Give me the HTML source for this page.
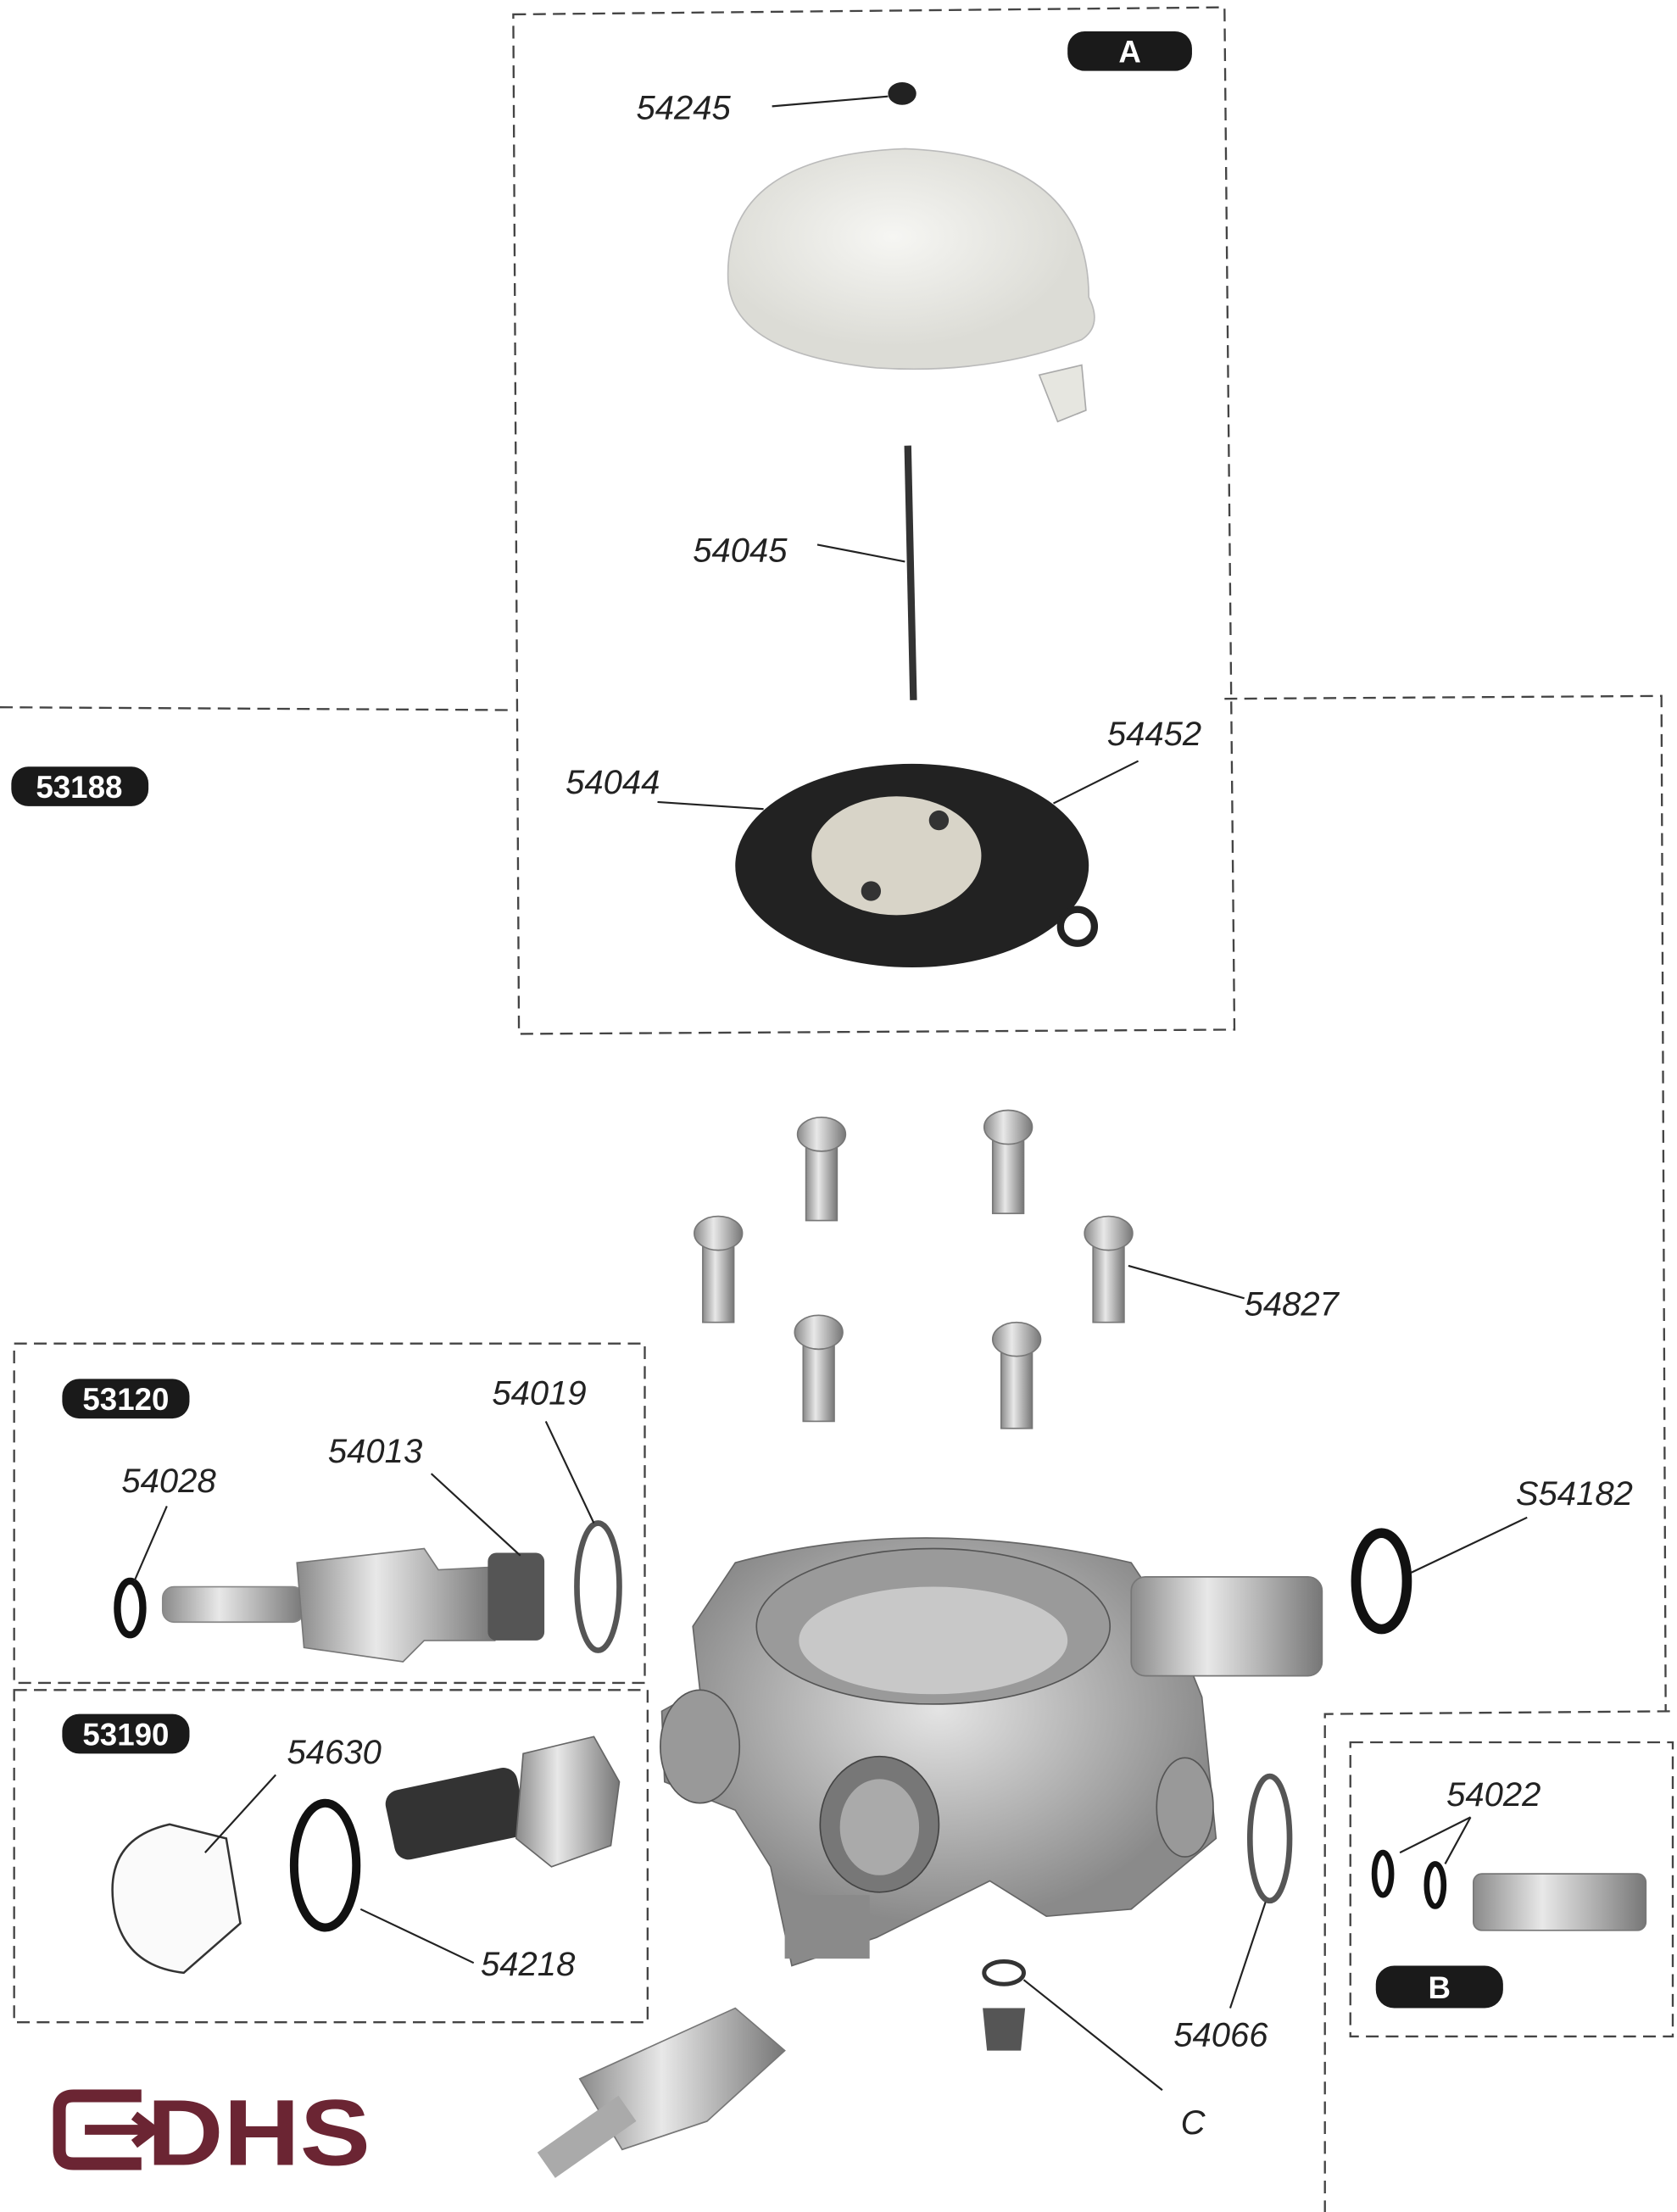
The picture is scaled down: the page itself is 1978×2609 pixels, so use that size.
<!DOCTYPE html>
<html><head><meta charset="utf-8"><style>
html,body{margin:0;padding:0;background:#fff;}
svg{display:block}
text{font-family:"Liberation Sans",sans-serif;}
.l{font-size:24px;font-style:italic;fill:#222}
.d{stroke:#444;stroke-width:1.4;stroke-dasharray:9 5;fill:none}
.ld{stroke:#222;stroke-width:1.3;fill:none}
.pt{font-size:22px;font-weight:bold;fill:#fff}
</style></head><body>
<svg width="1978" height="2609" viewBox="0 0 1186 1564" xmlns="http://www.w3.org/2000/svg">
<defs>
<linearGradient id="m" x1="0" x2="1"><stop offset="0" stop-color="#8a8a8a"/><stop offset=".4" stop-color="#e8e8e8"/><stop offset="1" stop-color="#777"/></linearGradient>
<radialGradient id="dome" cx=".45" cy=".4"><stop offset="0" stop-color="#f6f6f3"/><stop offset="1" stop-color="#dcdcd6"/></radialGradient>
<radialGradient id="body" cx=".5" cy=".4"><stop offset="0" stop-color="#e4e4e4"/><stop offset="1" stop-color="#8a8a8a"/></radialGradient>
</defs>
<rect width="1186" height="1564" fill="#fff"/>
<path class="d" d="M363 10 L866 5 L873 728 L367 731 Z"/>
<path class="d" d="M0 500 L363 502 M866 494 L1175 492 L1178 1210"/>
<path class="d" d="M937 1565 L937 1212 L1186 1210"/>
<rect class="d" x="955" y="1232" width="228" height="208"/>
<rect class="d" x="10" y="950" width="446" height="240"/>
<rect class="d" x="10" y="1195" width="448" height="235"/>
<rect x="755" y="22" width="88" height="28" rx="12" fill="#1a1a1a"/><text x="799" y="44" class="pt" text-anchor="middle">A</text>
<rect x="973" y="1390" width="90" height="30" rx="13" fill="#1a1a1a"/><text x="1018" y="1413" class="pt" text-anchor="middle">B</text>
<rect x="8" y="542" width="97" height="28" rx="12" fill="#1a1a1a"/><text x="56" y="564" class="pt" text-anchor="middle">53188</text>
<rect x="44" y="975" width="90" height="28" rx="12" fill="#1a1a1a"/><text x="89" y="997" class="pt" text-anchor="middle">53120</text>
<rect x="44" y="1212" width="90" height="28" rx="12" fill="#1a1a1a"/><text x="89" y="1234" class="pt" text-anchor="middle">53190</text>
<ellipse cx="638" cy="66" rx="10" ry="8" fill="#222"/>
<path d="M515 200 Q510 110 640 105 Q770 110 770 210 Q780 230 765 240 Q700 265 620 260 Q520 250 515 200Z" fill="url(#dome)" stroke="#bbb"/>
<path d="M735 265 L765 258 L768 290 L748 298 Z" fill="#e6e6e0" stroke="#aaa"/>
<line x1="642" y1="315" x2="646" y2="495" stroke="#333" stroke-width="5"/>
<ellipse cx="645" cy="612" rx="125" ry="72" fill="#222"/>
<circle cx="762" cy="655" r="12" fill="none" stroke="#222" stroke-width="5"/>
<ellipse cx="634" cy="605" rx="60" ry="42" fill="#d8d4c8"/>
<circle cx="664" cy="580" r="7" fill="#333"/><circle cx="616" cy="630" r="7" fill="#333"/>
<g fill="url(#m)" stroke="#777">
<rect x="570" y="805" width="22" height="58"/><ellipse cx="581" cy="802" rx="17" ry="12"/>
<rect x="702" y="800" width="22" height="58"/><ellipse cx="713" cy="797" rx="17" ry="12"/>
<rect x="497" y="875" width="22" height="60"/><ellipse cx="508" cy="872" rx="17" ry="12"/>
<rect x="773" y="875" width="22" height="60"/><ellipse cx="784" cy="872" rx="17" ry="12"/>
<rect x="568" y="945" width="22" height="60"/><ellipse cx="579" cy="942" rx="17" ry="12"/>
<rect x="708" y="950" width="22" height="60"/><ellipse cx="719" cy="947" rx="17" ry="12"/>
</g>
<path d="M490 1150 L520 1105 Q650 1070 800 1105 L830 1150 L850 1200 L860 1300 L800 1350 L740 1355 L700 1330 L620 1370 L560 1390 L545 1320 L520 1280 L470 1260 L468 1210 L495 1195 Z" fill="url(#body)" stroke="#666"/>
<ellipse cx="660" cy="1150" rx="125" ry="55" fill="#9a9a9a" stroke="#555"/>
<ellipse cx="660" cy="1160" rx="95" ry="38" fill="#c8c8c8"/>
<rect x="800" y="1115" width="135" height="70" rx="10" fill="url(#m)" stroke="#777"/>
<ellipse cx="622" cy="1290" rx="42" ry="48" fill="#777" stroke="#444"/>
<ellipse cx="622" cy="1292" rx="28" ry="34" fill="#aaa"/>
<ellipse cx="495" cy="1235" rx="28" ry="40" fill="#999" stroke="#555"/>
<ellipse cx="838" cy="1278" rx="20" ry="35" fill="#999" stroke="#555"/>
<rect x="555" y="1340" width="60" height="45" fill="#8a8a8a"/>
<ellipse cx="710" cy="1395" rx="14" ry="8" fill="none" stroke="#333" stroke-width="3"/>
<path d="M695 1420 L725 1420 L722 1450 L698 1450 Z" fill="#555"/>
<path d="M410 1470 L520 1420 L555 1450 L500 1500 L440 1520 Z" fill="url(#m)" stroke="#777"/>
<rect x="380" y="1500" width="70" height="22" fill="#aaa" transform="rotate(-35 415 1511)"/>
<ellipse cx="92" cy="1137" rx="9" ry="19" fill="none" stroke="#111" stroke-width="5"/>
<rect x="115" y="1122" width="100" height="25" rx="8" fill="url(#m)" stroke="#888"/>
<path d="M210 1105 L300 1095 L310 1110 L350 1108 L350 1160 L300 1160 L285 1175 L215 1165 Z" fill="url(#m)" stroke="#777"/>
<rect x="345" y="1098" width="40" height="62" rx="6" fill="#555"/>
<ellipse cx="423" cy="1122" rx="15" ry="45" fill="none" stroke="#555" stroke-width="4"/>
<path d="M80 1345 Q75 1300 120 1290 L160 1300 L170 1360 L130 1395 Q85 1390 80 1345Z" fill="#fafafa" stroke="#333" stroke-width="1.5"/>
<ellipse cx="230" cy="1319" rx="22" ry="44" fill="none" stroke="#111" stroke-width="6"/>
<rect x="275" y="1258" width="95" height="50" rx="10" fill="#333" transform="rotate(-12 320 1283)"/>
<path d="M370 1240 L420 1228 L438 1260 L432 1305 L390 1320 L365 1300 Z" fill="url(#m)" stroke="#666"/>
<ellipse cx="977" cy="1118" rx="18" ry="34" fill="none" stroke="#111" stroke-width="7"/>
<ellipse cx="898" cy="1300" rx="14" ry="44" fill="none" stroke="#555" stroke-width="4"/>
<ellipse cx="978" cy="1325" rx="6" ry="15" fill="none" stroke="#111" stroke-width="4"/>
<ellipse cx="1015" cy="1333" rx="6" ry="15" fill="none" stroke="#111" stroke-width="4"/>
<rect x="1042" y="1325" width="122" height="40" rx="6" fill="url(#m)" stroke="#777"/>
<g class="ld">
<line x1="546" y1="75" x2="628" y2="68"/>
<line x1="578" y1="385" x2="640" y2="397"/>
<line x1="465" y1="567" x2="540" y2="572"/>
<line x1="805" y1="538" x2="745" y2="568"/>
<line x1="880" y1="918" x2="798" y2="895"/>
<line x1="1080" y1="1073" x2="998" y2="1112"/>
<line x1="118" y1="1065" x2="95" y2="1118"/>
<line x1="305" y1="1042" x2="368" y2="1100"/>
<line x1="386" y1="1005" x2="420" y2="1077"/>
<line x1="195" y1="1255" x2="145" y2="1310"/>
<line x1="255" y1="1350" x2="335" y2="1388"/>
<line x1="1040" y1="1285" x2="990" y2="1310"/>
<line x1="1040" y1="1285" x2="1022" y2="1318"/>
<line x1="870" y1="1420" x2="895" y2="1345"/>
<line x1="822" y1="1478" x2="724" y2="1400"/>
</g>
<text x="450" y="84" class="l">54245</text>
<text x="490" y="397" class="l">54045</text>
<text x="400" y="561" class="l">54044</text>
<text x="783" y="527" class="l">54452</text>
<text x="880" y="930" class="l">54827</text>
<text x="1072" y="1064" class="l">S54182</text>
<text x="348" y="993" class="l">54019</text>
<text x="232" y="1034" class="l">54013</text>
<text x="86" y="1055" class="l">54028</text>
<text x="203" y="1247" class="l">54630</text>
<text x="340" y="1397" class="l">54218</text>
<text x="1023" y="1277" class="l">54022</text>
<text x="830" y="1447" class="l">54066</text>
<text x="835" y="1509" class="l">C</text>
<path d="M100 1482 L52 1482 Q42 1482 42 1492 L42 1520 Q42 1530 52 1530 L100 1530" fill="none" stroke="#6b2533" stroke-width="9"/>
<path d="M60 1506 L105 1506 M95 1496 L108 1506 L95 1516" fill="none" stroke="#6b2533" stroke-width="7"/>
<text x="104" y="1531" textLength="158" lengthAdjust="spacingAndGlyphs" style="font-size:66px;font-weight:bold;fill:#6b2533">DHS</text>
</svg>
</body></html>
